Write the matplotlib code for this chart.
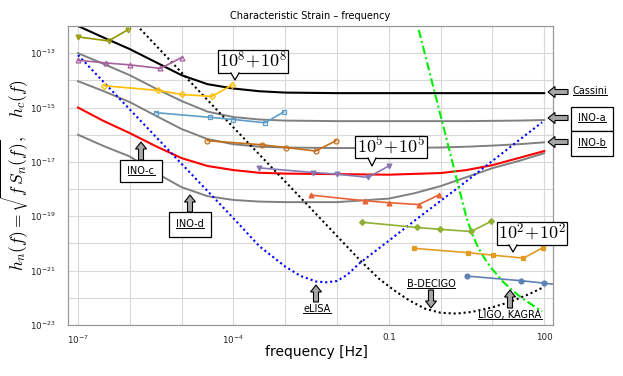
import numpy as np
import matplotlib
matplotlib.use('Agg')
import matplotlib.pyplot as plt
from matplotlib.patches import FancyArrow, Polygon, Rectangle
from matplotlib.lines import Line2D
from matplotlib.transforms import IdentityTransform

# ---- detector noise curves, log10(f) / log10(h) ----
cassini_lf = [-7.0, -6.5, -6.0, -5.5, -5.0, -4.5, -4.0, -3.5, -3.0, -2.0, 0.0, 2.0]
cassini_lh = [-12.0, -12.43, -12.85, -13.33, -13.81, -14.14, -14.30, -14.40, -14.45, -14.47, -14.47, -14.47]

ino_lf = [-7.0, -6.5, -6.0, -5.5, -5.0, -4.5, -4.0, -3.5, -3.0, -2.0, -1.0, -0.5, 0.0, 0.5, 1.0, 1.5, 2.0]
ino_a_lh = [-13.0, -13.40, -13.81, -14.30, -14.76, -15.15, -15.35, -15.44, -15.48, -15.50, -15.50, -15.50, -15.50, -15.50, -15.49, -15.48, -15.46]
ino_b_lh = [-14.03, -14.40, -14.80, -15.30, -15.79, -16.16, -16.35, -16.44, -16.47, -16.49, -16.49, -16.48, -16.47, -16.44, -16.40, -16.35, -16.28]
ino_c_lh = [-15.0, -15.5, -15.94, -16.42, -16.86, -17.15, -17.30, -17.40, -17.43, -17.45, -17.47, -17.44, -17.41, -17.30, -17.12, -16.86, -16.60]
ino_d_lh = [-16.0, -16.42, -16.80, -17.40, -17.93, -18.26, -18.40, -18.46, -18.48, -18.48, -18.35, -18.15, -17.89, -17.56, -17.23, -16.97, -16.68]

elisa_lf = [-7.0, -6.0, -5.0, -4.0, -3.5, -3.0, -2.7, -2.4, -2.2, -2.0, -1.8, -1.56, -1.0, -0.44, 0.37, 1.34, 1.96]
elisa_lh = [-13.07, -15.07, -17.07, -19.07, -20.1, -20.85, -21.2, -21.4, -21.43, -21.38, -21.15, -20.72, -19.9, -19.07, -17.9, -16.46, -15.54]

decigo_lf = [-6.0, -4.0, -2.66, -1.56, -1.2, -0.9, -0.6, -0.3, 0.0, 0.3, 0.6, 1.0, 1.34, 1.7, 2.0]
decigo_lh = [-11.7, -15.73, -18.40, -20.61, -21.28, -21.72, -22.1, -22.4, -22.55, -22.58, -22.52, -22.35, -22.15, -21.87, -21.6]

ligo_lf = [-0.5, 0.0, 0.5, 0.6, 0.7, 0.8, 0.9, 1.0, 1.2, 1.4, 1.6, 1.8, 1.96]
ligo_lh = [-11.55, -15.3, -19.05, -19.6, -20.05, -20.4, -20.7, -20.95, -21.4, -21.75, -22.05, -22.3, -22.5]

# ---- equal-mass binaries (log10 f, log10 h_c) ----
m1e10_lf = [-7.0, -6.41, -6.03]
m1e10_lh = [-12.4, -12.55, -12.13]
m1e9_lf = [-7.0, -6.46, -6.0, -5.41, -5.0]
m1e9_lh = [-13.26, -13.36, -13.43, -13.56, -13.16]
m1e8_lf = [-6.49, -5.45, -5.0, -4.42, -4.03]
m1e8_lh = [-14.2, -14.37, -14.52, -14.59, -14.18]
m1e7_lf = [-5.49, -4.45, -4.0, -3.39, -3.03]
m1e7_lh = [-15.19, -15.36, -15.44, -15.56, -15.16]
m1e6_lf = [-4.5, -3.45, -2.99, -2.41, -2.02]
m1e6_lh = [-16.22, -16.37, -16.47, -16.6, -16.22]
m1e5_lf = [-3.5, -2.46, -2.0, -1.4, -1.0]
m1e5_lh = [-17.22, -17.39, -17.45, -17.57, -17.15]
m1e4_lf = [-2.51, -1.46, -1.0, -0.42, -0.04]
m1e4_lh = [-18.22, -18.43, -18.5, -18.57, -18.22]
m1e3_lf = [-1.52, -0.46, -0.01, 0.59, 0.97]
m1e3_lh = [-19.22, -19.41, -19.48, -19.56, -19.19]
m1e2_lf = [-0.51, 0.53, 1.01, 1.6, 1.97]
m1e2_lh = [-20.18, -20.34, -20.43, -20.54, -20.16]
m1e1_lf = [0.51, 1.55, 2.0, 2.6, 3.0]
m1e1_lh = [-21.2, -21.37, -21.46, -21.6, -21.2]

xtick_vals = [1e-7, 1e-4, 0.1, 100]
xtick_labels = [r'$\mathregular{10^{-7}}$', r'$\mathregular{10^{-4}}$', '0.1', '100']
ytick_vals = [1e-23, 1e-21, 1e-19, 1e-17, 1e-15, 1e-13]
ytick_labels = [r'$\mathregular{10^{-%d}}$' % k for k in (23, 21, 19, 17, 15, 13)]

W, H = 623, 376
fig = plt.figure(figsize=(W / 100, H / 100), dpi=100)
ax = fig.add_axes([68 / W, 1 - 325 / H, (553 - 68) / W, (325 - 26) / H])

def P(lf, lh):
    return np.power(10.0, lf), np.power(10.0, lh)

# noise curves
ax.plot(*P(cassini_lf, cassini_lh), color='black', lw=1.5)
for lh in (ino_a_lh, ino_b_lh, ino_d_lh):
    ax.plot(*P(ino_lf, lh), color='#808080', lw=1.4)
ax.plot(*P(ino_lf, ino_c_lh), color='#ff0000', lw=1.5)
ax.plot(*P(elisa_lf, elisa_lh), color='#0000ff', lw=1.5, ls=(0, (1, 1.4)))
ax.plot(*P(decigo_lf, decigo_lh), color='black', lw=1.5, ls=(0, (1, 1.4)))
ax.plot(*P(ligo_lf, ligo_lh), color='#00ee00', lw=1.5, ls=(0, (4, 1.5, 1, 1.5)))

# binaries
binaries = [
    (m1e1_lf, m1e1_lh, '#5E81B5', 'o', True),
    (m1e2_lf, m1e2_lh, '#E19C24', 's', True),
    (m1e3_lf, m1e3_lh, '#8FB032', 'D', True),
    (m1e4_lf, m1e4_lh, '#EB6235', '^', True),
    (m1e5_lf, m1e5_lh, '#8778B3', 'v', True),
    (m1e6_lf, m1e6_lh, '#C56E1A', 'o', False),
    (m1e7_lf, m1e7_lh, '#5D9EC7', 's', False),
    (m1e8_lf, m1e8_lh, '#FFBF00', 'D', False),
    (m1e9_lf, m1e9_lh, '#A5609D', '^', False),
    (m1e10_lf, m1e10_lh, '#929600', 'v', False),
]
for lf, lh, c, mk, filled in binaries:
    ax.plot(*P(lf, lh), color=c, lw=1.2, marker=mk, ms=3.5 if mk != 'D' else 3,
            mfc=c if filled else 'none', mec=c, mew=0.9)

ax.set_xscale('log'); ax.set_yscale('log')
ax.set_xlim(10 ** -7.193, 10 ** 2.17)
ax.set_ylim(1e-23, 1e-12)
ax.set_xticks(xtick_vals); ax.set_xticklabels(xtick_labels)
ax.set_yticks(ytick_vals); ax.set_yticklabels(ytick_labels)
ax.set_xticks([10.0 ** k for k in range(-7, 3)], minor=True)
ax.set_yticks([10.0 ** k for k in range(-23, -11)], minor=True)
ax.xaxis.set_minor_formatter(plt.NullFormatter())
ax.yaxis.set_minor_formatter(plt.NullFormatter())
ax.grid(True, which='both', color='#d8d8d8', lw=0.8)
ax.set_axisbelow(True)
ax.tick_params(which='both', length=0, labelsize=6.3, colors='#222222')
ax.tick_params(axis='y', pad=9)
ax.tick_params(axis='x', pad=6)
for s in ax.spines.values():
    s.set_color('#999999'); s.set_linewidth(0.9)

fig.text(310 / W, 1 - 16 / H, 'Characteristic Strain \u2013 frequency', ha='center', va='center', fontsize=7)
fig.text(316 / W, 1 - 352 / H, 'frequency [Hz]', ha='center', va='center', fontsize=10)
fig.text(15 / W, 1 - 175 / H, r'$h_n(f)=\sqrt{f\,S_n(f)},\quad h_c(f)$', rotation=90,
         ha='center', va='center', fontsize=12.5, math_fontfamily='cm')

# ---- annotations (image pixel coordinates, y from top) ----
ID = IdentityTransform()

def block_arrow(x0, y0, x1, y1):
    a = FancyArrow(x0, H - y0, x1 - x0, -(y1 - y0), width=5, head_width=11, head_length=7,
                   length_includes_head=True, fc='#a6a6a6', ec='black', lw=0.8, transform=ID)
    fig.add_artist(a)

def box(x0, y0, x1, y1):
    fig.add_artist(Rectangle((x0, H - y1), x1 - x0, y1 - y0, fc='white', ec='black', lw=0.9, transform=ID))

under = []
def label(x, y, s):
    t = fig.text(x / W, 1 - y / H, s, ha='center', va='center', fontsize=7, zorder=5)
    under.append(t)

def callout(x0, y0, x1, y1, tipx, tipy, s):
    box(x0, y0, x1, y1)
    tri = [(tipx - 4, H - y1 + 0.6), (tipx, H - tipy), (tipx + 4, H - y1 + 0.6)]
    fig.add_artist(Polygon(tri, closed=True, fc='white', ec='none', transform=ID, zorder=3))
    fig.add_artist(Line2D([tipx - 4, tipx, tipx + 4], [H - y1, H - tipy, H - y1], color='black', lw=0.9, transform=ID, zorder=4))
    fig.text((x0 + x1) / 2 / W, 1 - (y0 + y1) / 2 / H + 0.004, s, ha='center', va='center',
             fontsize=13, math_fontfamily='cm', zorder=5)

callout(218, 50, 288, 73, 235, 80, r'$10^8\!+\!10^8$')
callout(355, 136, 427, 158, 372, 166, r'$10^5\!+\!10^5$')
callout(497, 222, 567, 245, 513, 252, r'$10^2\!+\!10^2$')

block_arrow(568, 92, 548, 92)
label(590, 91, 'Cassini')
box(571, 107, 613, 131)
box(571, 131, 613, 156)
block_arrow(568, 118, 548, 118)
block_arrow(568, 142, 548, 142)
label(592, 118, 'INO-a')
label(592, 143, 'INO-b')

box(120, 160, 162, 182)
block_arrow(141, 160, 141, 142)
label(141, 171, 'INO-c')
box(169, 212, 211, 237)
block_arrow(190, 212, 190, 195)
label(190, 224, 'INO-d')

block_arrow(316, 302, 316, 285)
label(317, 309, 'eLISA')
block_arrow(431, 290, 431, 308)
label(431, 284, 'B-DECIGO')
block_arrow(510, 308, 510, 290)
label(510, 315, 'LIGO, KAGRA')

fig.canvas.draw()
r = fig.canvas.get_renderer()
for t in under:
    bb = t.get_window_extent(r)
    fig.add_artist(Line2D([bb.x0, bb.x1], [bb.y0 + 1.2, bb.y0 + 1.2], color='black', lw=0.7, transform=ID, zorder=5))

fig.savefig('out.png', dpi=100)
